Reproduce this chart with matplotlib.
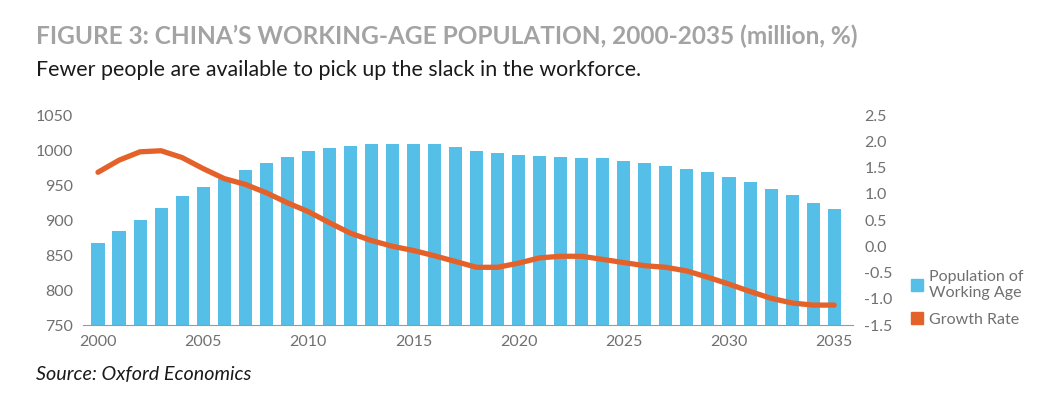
import numpy as np
import matplotlib
matplotlib.use("Agg")
import matplotlib.pyplot as plt
from matplotlib.patches import Patch

# -------------------------------------------------------------------
# Data
# -------------------------------------------------------------------
years = list(range(2000, 2036))
population = [867, 884, 900, 917, 934, 947, 959, 972, 982, 990,
              998, 1003, 1006, 1008, 1008, 1008, 1008, 1005, 999, 996,
              993, 992, 990, 989, 988, 985, 982, 977, 973, 969,
              962, 954, 944, 936, 924, 916]
growth_rate = [1.41, 1.64, 1.80, 1.82, 1.69, 1.48, 1.29, 1.18, 1.02, 0.83,
               0.66, 0.45, 0.25, 0.11, 0.00, -0.08, -0.18, -0.29, -0.40, -0.40,
               -0.32, -0.22, -0.19, -0.19, -0.25, -0.31, -0.37, -0.40, -0.47, -0.59,
               -0.72, -0.86, -0.99, -1.08, -1.12, -1.12]
left_ticks = [750, 800, 850, 900, 950, 1000, 1050]
right_ticks = [-1.5, -1.0, -0.5, 0.0, 0.5, 1.0, 1.5, 2.0, 2.5]
x_ticks = [2000, 2005, 2010, 2015, 2020, 2025, 2030, 2035]

BLUE = "#55BFE7"
ORANGE = "#E4622A"
GREY = "#707070"

plt.rcParams['font.family'] = ['Lato', 'DejaVu Sans']

# -------------------------------------------------------------------
# Figure
# -------------------------------------------------------------------
fig = plt.figure(figsize=(10.42, 3.94), dpi=100)
ax = fig.add_axes([0.0797, 0.175, 0.739, 0.533])

ax.bar(years, population, width=0.62, color=BLUE, zorder=2)
ax.set_ylim(750, 1050)
ax.set_xlim(1999.29, 2035.9)
ax.set_yticks(left_ticks)
ax.set_xticks(x_ticks)
ax.tick_params(axis="both", length=0, colors=GREY, labelsize=11.5)
ax.tick_params(axis="y", pad=7)
ax.tick_params(axis="x", pad=7)
for s in ["top", "right", "left"]:
    ax.spines[s].set_visible(False)
ax.spines["bottom"].set_color("#9a9a9a")
ax.spines["bottom"].set_linewidth(0.8)

ax2 = ax.twinx()
ax2.plot(years, growth_rate, color=ORANGE, lw=3.8, solid_capstyle="round", zorder=3)
ax2.set_ylim(-1.5, 2.5)
ax2.set_yticks(right_ticks)
ax2.set_yticklabels([f"{v:.1f}" for v in right_ticks])
ax2.tick_params(axis="y", length=0, colors=GREY, labelsize=11.5, pad=8)
for s in ["top", "right", "left", "bottom"]:
    ax2.spines[s].set_visible(False)

# Legend
handles = [Patch(color=BLUE, label="Population of\nWorking Age"),
           Patch(color=ORANGE, label="Growth Rate")]
fig.legend(handles=handles, loc="upper left", bbox_to_anchor=(0.867, 0.335),
           frameon=False, fontsize=11.5, labelcolor=GREY, handlelength=0.75,
           handleheight=0.75, handletextpad=0.35, labelspacing=0.75, borderpad=0)

# Titles and source
fig.text(0.035, 0.908, "FIGURE 3: CHINA\u2019S WORKING-AGE POPULATION, 2000-2035 (million, %)",
         fontsize=17.6, fontweight="bold", color="#a3a3a3", va="center")
fig.text(0.035, 0.822, "Fewer people are available to pick up the slack in the workforce.",
         fontsize=15.4, color="#1a1a1a", va="center")
fig.text(0.035, 0.05, "Source: Oxford Economics", fontsize=14.2, style="italic",
         color="#1a1a1a", va="center")

fig.savefig("out.png", dpi=100)
